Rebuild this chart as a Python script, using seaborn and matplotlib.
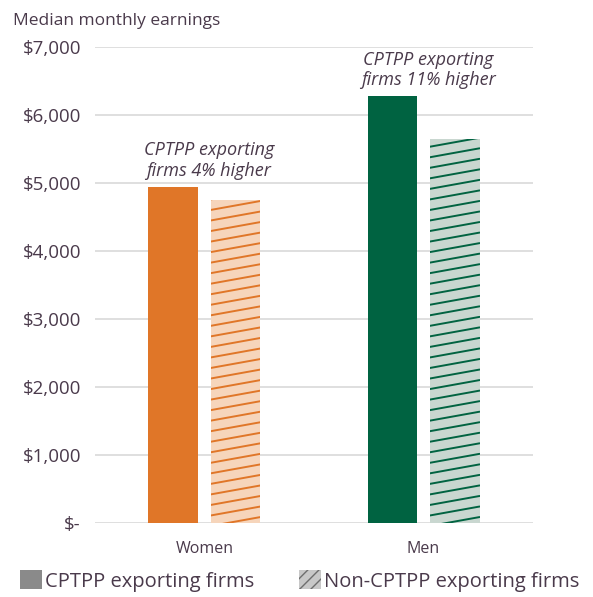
import numpy as np
import pandas as pd
import seaborn as sns
import matplotlib.pyplot as plt
from matplotlib.patches import Patch
from matplotlib.lines import Line2D

# data
groups = ['Women', 'Men']
firm_types = ['CPTPP exporting firms', 'Non-CPTPP exporting firms']
cptpp = [4950, 6280]
non_cptpp = [4750, 5650]
notes = ['CPTPP exporting\nfirms 4% higher', 'CPTPP exporting\nfirms 11% higher']
yticks = [0, 1000, 2000, 3000, 4000, 5000, 6000, 7000]
ylabels = ['$-', '$1,000', '$2,000', '$3,000', '$4,000', '$5,000', '$6,000', '$7,000']

solid_cols = ['#e07628', '#006341']
light_cols = ['#f6d5bb', '#c9d7d0']
txt = '#4a3a4b'

df = pd.DataFrame({
    'group': groups * 2,
    'firm': [firm_types[0]] * 2 + [firm_types[1]] * 2,
    'earn': cptpp + non_cptpp,
})

sns.set_style('white')
plt.rcParams['font.family'] = ['Open Sans', 'DejaVu Sans']

fig = plt.figure(figsize=(5.93, 5.97), dpi=100)
ax = fig.add_axes([0.160, 0.124, 0.739, 0.797])

sns.barplot(data=df, x='group', y='earn', hue='firm', order=groups,
            hue_order=firm_types, width=0.568, gap=0.2, legend=False,
            ax=ax, errorbar=None, linewidth=0, zorder=3)

# recolour bars; hatched bars get shallow diagonal lines
for i, bar in enumerate(ax.containers[0]):
    bar.set_facecolor(solid_cols[i])
for i, bar in enumerate(ax.containers[1]):
    bar.set_facecolor(light_cols[i])
    x0 = bar.get_x()
    x1 = x0 + bar.get_width()
    h = bar.get_height()
    for yb in np.arange(-200, h + 200, 155):
        ln = Line2D([x0, x1], [yb, yb + 132], color=solid_cols[i], lw=1.4,
                    zorder=4)
        ax.add_line(ln)
        ln.set_clip_path(bar)

for i, t in enumerate(notes):
    top = max(cptpp[i], non_cptpp[i])
    ax.text(i + 0.02, top + 100, t, ha='center', va='bottom', fontsize=13,
            style='italic', color=txt, linespacing=1.2)

ax.set_ylim(0, 7000)
ax.set_xlim(-0.5, 1.5)
ax.set_yticks(yticks)
ax.set_yticklabels(ylabels)
ax.yaxis.grid(True, color='#d9d9d9', lw=1.2, zorder=0)
ax.tick_params(axis='y', length=0, pad=10, labelsize=13.5, labelcolor=txt)
ax.tick_params(axis='x', length=0, pad=13, labelsize=11.5, labelcolor=txt)
ax.set_xlabel('')
ax.set_ylabel('')
sns.despine(ax=ax, left=True, bottom=True)

fig.text(0.022, 0.965, 'Median monthly earnings', fontsize=12.5, color=txt,
         va='center')

handles = [Patch(facecolor='#8a8a8a', edgecolor='#8a8a8a', lw=0),
           Patch(facecolor='#c8c8c8', edgecolor='#6e6e6e', hatch='///', lw=0)]
fig.legend(handles, firm_types, loc='center', bbox_to_anchor=(0.505, 0.027),
           ncol=2, frameon=False, fontsize=14.5, labelcolor=txt,
           handlelength=1.1, handleheight=1.1, handletextpad=0.15,
           columnspacing=2.2, borderaxespad=0)

fig.savefig('out.png', dpi=100)
